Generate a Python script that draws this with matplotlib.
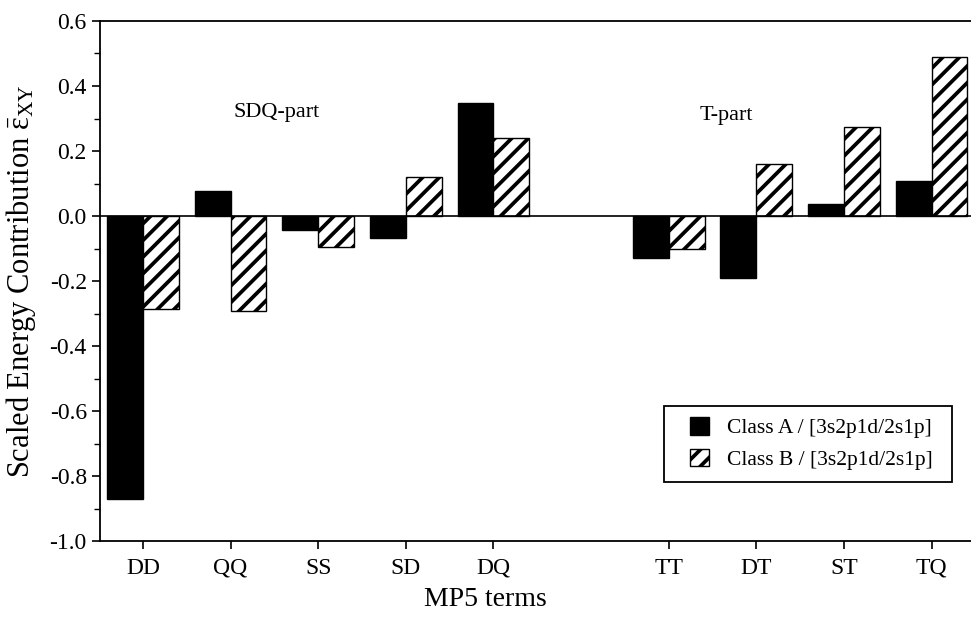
import numpy as np
import matplotlib
matplotlib.use('Agg')
import matplotlib.pyplot as plt
from matplotlib.ticker import MultipleLocator
from matplotlib.patches import Rectangle

# MP5 term contributions (scaled)
terms = ['DD', 'QQ', 'SS', 'SD', 'DQ', 'TT', 'DT', 'ST', 'TQ']
pos = [0, 1, 2, 3, 4, 6, 7, 8, 9]
class_a = [-0.872, 0.078, -0.043, -0.069, 0.347, -0.129, -0.19, 0.038, 0.107]
class_b = [-0.287, -0.291, -0.096, 0.119, 0.239, -0.10, 0.16, 0.274, 0.488]
label_a = 'Class A / [3s2p1d/2s1p]'
label_b = 'Class B / [3s2p1d/2s1p]'
yticks = [-1.0, -0.8, -0.6, -0.4, -0.2, 0.0, 0.2, 0.4, 0.6]

plt.rcParams['font.family'] = ['Liberation Serif', 'DejaVu Serif']
plt.rcParams['mathtext.fontset'] = 'stix'
plt.rcParams['mathtext.default'] = 'regular'
plt.rcParams['hatch.linewidth'] = 2.7

fig = plt.figure(figsize=(9.71, 6.17), dpi=100)
ax = fig.add_axes([0.103, 0.123, 0.897, 0.843])

x = np.array(pos)
w = 0.41
ax.bar(x - w/2, class_a, w, color='black', edgecolor='black', lw=1, label=label_a)
ax.bar(x + w/2, class_b, w, color='white', edgecolor='black', lw=1, hatch='//', label=label_b)
ax.axhline(0, color='black', lw=1.2)

ax.set_xlim(-0.49, 9.45)
ax.set_ylim(-1.0, 0.6)
ax.set_xticks(x)
ax.set_xticklabels(terms, fontsize=17)
ax.set_yticks(yticks)
ax.set_yticklabels(['%.1f' % abs(v) if v == 0 else '%.1f' % v for v in yticks], fontsize=17)
ax.yaxis.set_minor_locator(MultipleLocator(0.1))
ax.tick_params(axis='both', direction='out', length=6, width=1.2)
ax.tick_params(axis='y', which='minor', direction='out', length=4, width=1)
ax.tick_params(axis='x', pad=6)

for s in ['left', 'bottom', 'top']:
    ax.spines[s].set_linewidth(1.3)
ax.spines['right'].set_visible(False)

ax.set_xlabel('MP5 terms', fontsize=20)
ax.xaxis.set_label_coords(0.443, -0.088)
ax.set_ylabel(r'Scaled Energy Contribution $\bar{\varepsilon}_{XY}$', fontsize=22)
ax.yaxis.set_label_coords(-0.071, 0.5)

ax.text(1.53, 0.317, 'SDQ-part', fontsize=16, ha='center', va='center')
ax.text(6.66, 0.31, 'T-part', fontsize=16, ha='center', va='center')

# legend entries without frame, box drawn separately
leg = ax.legend(loc='center', bbox_to_anchor=(0.817, 0.187), fontsize=15.5,
                frameon=False, handlelength=0.85, handleheight=0.85,
                borderpad=0, labelspacing=0.5, handletextpad=0.85, borderaxespad=0)
ax.add_patch(Rectangle((0.6475, 0.1135), 0.3305, 0.1461, transform=ax.transAxes,
                       fill=False, edgecolor='black', lw=1.3, zorder=5))

plt.savefig('out.png', dpi=100)
